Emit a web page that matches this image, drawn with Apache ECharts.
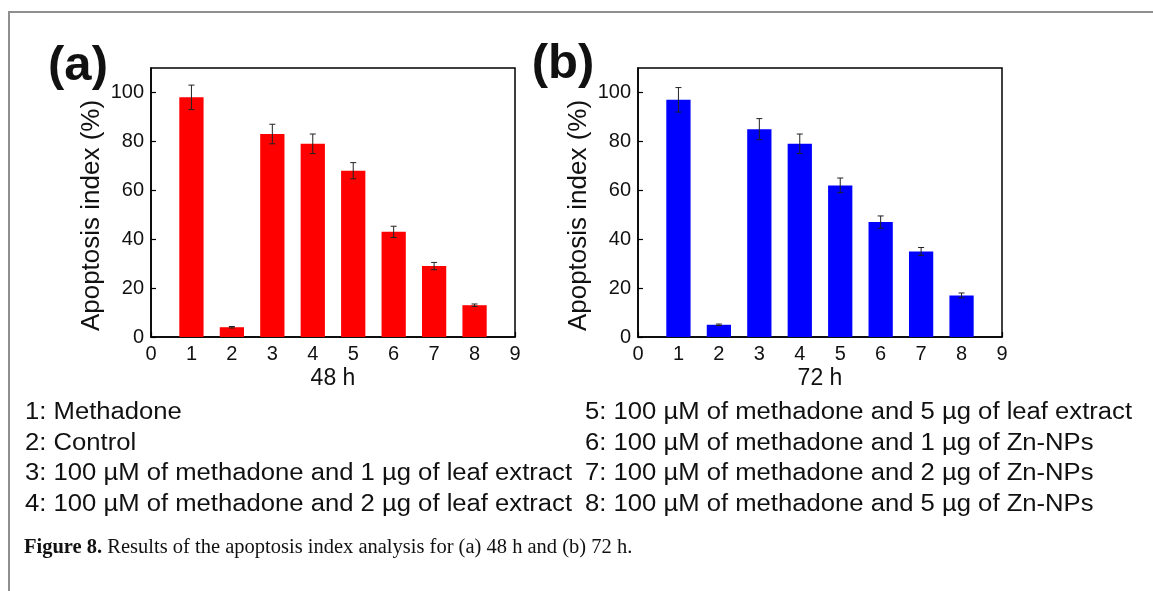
<!DOCTYPE html>
<html>
<head>
<meta charset="utf-8">
<script src="https://cdn.jsdelivr.net/npm/echarts@6/dist/echarts.min.js"></script>
<style>
  html, body { margin: 0; padding: 0; background: #fff; }
  #chart { width: 1153px; height: 591px; }
</style>
</head>
<body>
<div id="chart"></div>
<script>
// Treatment groups (x positions 1..8)
const groups = [1, 2, 3, 4, 5, 6, 7, 8];

// Apoptosis index (%) and error after 48 h
const apoptosis48 = [98, 4, 83, 79, 68, 43, 29, 13];
const error48 = [5, 0.3, 4, 4, 3.3, 2.3, 1.5, 0.5];

// Apoptosis index (%) and error after 72 h
const apoptosis72 = [97, 5, 85, 79, 62, 47, 35, 17];
const error72 = [5, 0.3, 4.3, 4, 3, 2.5, 1.6, 1];

// Group descriptions
const legendLeft = [
  '1: Methadone',
  '2: Control',
  '3: 100 \u00b5M of methadone and 1 \u00b5g of leaf extract',
  '4: 100 \u00b5M of methadone and 2 \u00b5g of leaf extract'
];
const legendRight = [
  '5: 100 \u00b5M of methadone and 5 \u00b5g of leaf extract',
  '6: 100 \u00b5M of methadone and 1 \u00b5g of Zn-NPs',
  '7: 100 \u00b5M of methadone and 2 \u00b5g of Zn-NPs',
  '8: 100 \u00b5M of methadone and 5 \u00b5g of Zn-NPs'
];

const panelLabels = ['(a)', '(b)'];
const timeLabels = ['48 h', '72 h'];
const yTitle = 'Apoptosis index (%)';
const captionBold = 'Figure 8.';
const captionText = ' Results of the apoptosis index analysis for (a) 48 h and (b) 72 h.';

const SANS = 'Liberation Sans, Arial, sans-serif';
const SERIF = 'Liberation Serif, Times New Roman, serif';

function rows(values, errors) {
  return groups.map((g, i) => [g, values[i], errors[i]]);
}

// Bar with an error bar on top, drawn through the axis scales
function barWithError(color) {
  return function (params, api) {
    const x = api.value(0), v = api.value(1), e = api.value(2);
    const base = api.coord([x, 0]);
    const top = api.coord([x, v]);
    const hi = api.coord([x, v + e]);
    const lo = api.coord([x, v - e]);
    const w = api.size([0.6, 0])[0];
    const cap = 3;
    const err = { stroke: '#222', lineWidth: 1 };
    return {
      type: 'group',
      children: [
        { type: 'rect', shape: { x: top[0] - w / 2, y: top[1], width: w, height: base[1] - top[1] },
          style: { fill: color } },
        { type: 'line', shape: { x1: hi[0], y1: hi[1], x2: lo[0], y2: lo[1] }, style: err },
        { type: 'line', shape: { x1: hi[0] - cap, y1: hi[1], x2: hi[0] + cap, y2: hi[1] }, style: err },
        { type: 'line', shape: { x1: lo[0] - cap, y1: lo[1], x2: lo[0] + cap, y2: lo[1] }, style: err }
      ]
    };
  };
}

function xAxisFor(i) {
  return {
    gridIndex: i, type: 'value', min: 0, max: 9, interval: 1,
    name: timeLabels[i], nameLocation: 'middle', nameGap: 30,
    nameTextStyle: { fontFamily: SANS, fontSize: 23, color: '#111' },
    axisLine: { onZero: false, lineStyle: { color: '#000', width: 1.5 } },
    axisTick: { inside: true, length: 5, lineStyle: { color: '#000', width: 1.2 } },
    axisLabel: { fontFamily: SANS, fontSize: 20, color: '#111', margin: 7 },
    splitLine: { show: false }
  };
}

function yAxisFor(i) {
  return {
    gridIndex: i, type: 'value', min: 0, max: 110, interval: 20,
    name: yTitle, nameLocation: 'middle', nameGap: 46, nameRotate: 90,
    // right padding nudges the rotated title toward the bottom of the axis
    nameTextStyle: { fontFamily: SANS, fontSize: 26, color: '#111', padding: [0, 26, 0, 0] },
    axisLine: { show: true, lineStyle: { color: '#000', width: 1.5 } },
    axisTick: { show: true, inside: true, length: 5, lineStyle: { color: '#000', width: 1.2 } },
    axisLabel: { fontFamily: SANS, fontSize: 20, color: '#111', margin: 7, showMaxLabel: false },
    splitLine: { show: false }
  };
}

const graphics = [
  // figure frame (top and left rule)
  { type: 'polyline', shape: { points: [[9, 591], [9, 12], [1153, 12]] },
    style: { stroke: '#8f8f8f', lineWidth: 2, fill: null } },
  { type: 'text', x: 78, y: 66, style: { text: panelLabels[0], font: 'bold 49px ' + SANS,
    fill: '#111', textAlign: 'center', textVerticalAlign: 'middle' } },
  { type: 'text', x: 563, y: 64, style: { text: panelLabels[1], font: 'bold 49px ' + SANS,
    fill: '#111', textAlign: 'center', textVerticalAlign: 'middle' } },
  { type: 'text', x: 24, y: 548, style: {
    text: '{b|' + captionBold + '}' + captionText,
    font: '20.5px ' + SERIF, fill: '#111', textVerticalAlign: 'middle',
    rich: { b: { fontWeight: 'bold', fontFamily: SERIF, fontSize: 20.5 } } } }
];

legendLeft.forEach((t, i) => {
  graphics.push({ type: 'text', x: 25, y: 413 + i * 30.5, scaleX: 1.115,
    style: { text: t, font: '23px ' + SANS, fill: '#111', textVerticalAlign: 'middle' } });
});
legendRight.forEach((t, i) => {
  graphics.push({ type: 'text', x: 585, y: 413 + i * 30.5, scaleX: 1.115,
    style: { text: t, font: '23px ' + SANS, fill: '#111', textVerticalAlign: 'middle' } });
});

const chart = echarts.init(document.getElementById('chart'), null, { renderer: 'canvas' });
chart.setOption({
  backgroundColor: '#fff',
  animation: false,
  grid: [
    { left: 151, top: 68, width: 364, height: 269, show: true, borderColor: '#000', borderWidth: 1.5 },
    { left: 638, top: 68, width: 364, height: 269, show: true, borderColor: '#000', borderWidth: 1.5 }
  ],
  xAxis: [xAxisFor(0), xAxisFor(1)],
  yAxis: [yAxisFor(0), yAxisFor(1)],
  series: [
    { type: 'custom', xAxisIndex: 0, yAxisIndex: 0, renderItem: barWithError('#ff0000'),
      data: rows(apoptosis48, error48), encode: { x: 0, y: [1, 2] } },
    { type: 'custom', xAxisIndex: 1, yAxisIndex: 1, renderItem: barWithError('#0000ff'),
      data: rows(apoptosis72, error72), encode: { x: 0, y: [1, 2] } }
  ],
  graphic: graphics
});
</script>
</body>
</html>
